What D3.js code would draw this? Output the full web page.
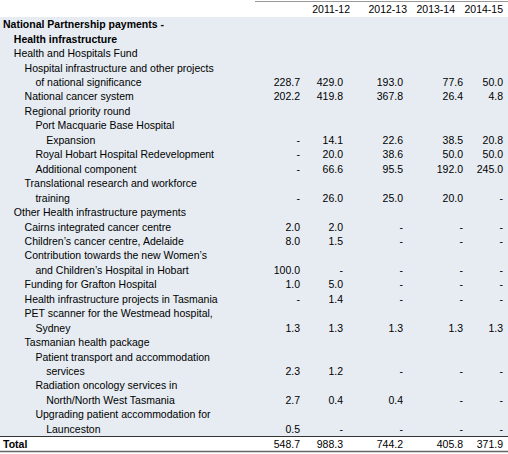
<!DOCTYPE html>
<html><head><meta charset="utf-8">
<script src="https://cdn.jsdelivr.net/npm/d3@7"></script>
<style>body{margin:0;background:#fff}</style>
</head><body><div id="tbl"></div>
<script>
const years = ["", "2011-12", "2012-13", "2013-14", "2014-15"];
const labels = [
  "National Partnership payments -", "Health infrastructure", "Health and Hospitals Fund",
  "Hospital infrastructure and other projects", "of national significance", "National cancer system",
  "Regional priority round", "Port Macquarie Base Hospital", "Expansion",
  "Royal Hobart Hospital Redevelopment", "Additional component", "Translational research and workforce",
  "training", "Other Health infrastructure payments", "Cairns integrated cancer centre",
  "Children\u2019s cancer centre, Adelaide", "Contribution towards the new Women\u2019s",
  "and Children\u2019s Hospital in Hobart", "Funding for Grafton Hospital",
  "Health infrastructure projects in Tasmania", "PET scanner for the Westmead hospital,",
  "Sydney", "Tasmanian health package", "Patient transport and accommodation", "services",
  "Radiation oncology services in", "North/North West Tasmania",
  "Upgrading patient accommodation for", "Launceston"
];
const levels = [0,1,1,2,3,2,2,3,4,3,3,2,3,1,2,2,2,3,2,2,2,3,2,3,4,3,4,3,4];
const boldRows = [0, 1];
const col0 = ["","","","","228.7","202.2","","","-","-","-","","-","","2.0","8.0","","100.0","1.0","-","","1.3","","","2.3","","2.7","","0.5"];
const col1 = ["","","","","429.0","419.8","","","14.1","20.0","66.6","","26.0","","2.0","1.5","","-","5.0","1.4","","1.3","","","1.2","","0.4","","-"];
const col2 = ["","","","","193.0","367.8","","","22.6","38.6","95.5","","25.0","","-","-","","-","-","-","","1.3","","","-","","0.4","","-"];
const col3 = ["","","","","77.6","26.4","","","38.5","50.0","192.0","","20.0","","-","-","","-","-","-","","1.3","","","-","","-","","-"];
const col4 = ["","","","","50.0","4.8","","","20.8","50.0","245.0","","-","","-","-","","-","-","-","","1.3","","","-","","-","","-"];
const totals = ["548.7", "988.3", "744.2", "405.8", "371.9"];
const cols = [col0, col1, col2, col3, col4];

const W = 508, H = 454;
const svg = d3.select("#tbl").append("svg").attr("width", W).attr("height", H)
  .style("font-family", "'Liberation Sans', Arial, sans-serif").style("font-size", "10.5px");

const y = d3.scaleBand().domain(d3.range(labels.length)).range([17, 436]);
const x = d3.scaleOrdinal().domain(d3.range(5)).range([300, 343, 403, 463, 503]);
const hx = d3.scaleOrdinal().domain(d3.range(5)).range([300, 350, 407, 455, 503]);

svg.append("rect").attr("x", 0).attr("y", 17).attr("width", W).attr("height", 419).attr("fill", "#e6ecf2");
svg.append("line").attr("x1", 255).attr("x2", W).attr("y1", 1.5).attr("y2", 1.5).attr("stroke", "#999");
svg.append("line").attr("x1", 0).attr("x2", W).attr("y1", 436.5).attr("y2", 436.5).attr("stroke", "#333");
svg.append("line").attr("x1", 0).attr("x2", W).attr("y1", 451.5).attr("y2", 451.5).attr("stroke", "#666").attr("stroke-width", 1.5);

svg.selectAll(".hdr").data(years).enter().append("text")
  .attr("x", (d, i) => hx(i)).attr("y", 13).attr("text-anchor", "end").text(d => d);

svg.selectAll(".lbl").data(labels).enter().append("text")
  .attr("x", (d, i) => 3 + levels[i] * 10.8)
  .attr("y", (d, i) => y(i) + y.bandwidth() / 2 + 4)
  .attr("font-weight", (d, i) => boldRows.includes(i) ? "bold" : null)
  .text(d => d);

cols.forEach((c, j) => {
  svg.selectAll(".c" + j).data(c).enter().append("text")
    .attr("x", x(j)).attr("y", (d, i) => y(i) + y.bandwidth() / 2 + 4)
    .attr("text-anchor", "end").text(d => d);
});

svg.append("text").attr("x", 3).attr("y", 447.5).attr("font-weight", "bold").text("Total");
svg.selectAll(".tot").data(totals).enter().append("text")
  .attr("x", (d, i) => x(i)).attr("y", 447.5).attr("text-anchor", "end").text(d => d);
</script></body></html>
